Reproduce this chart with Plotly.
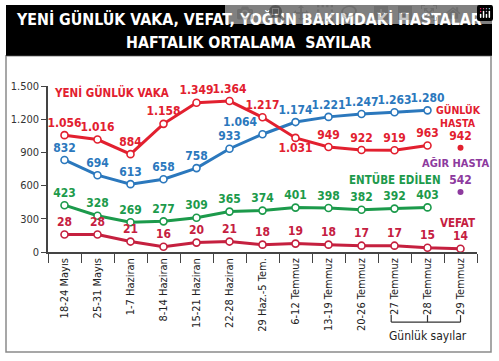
import plotly.graph_objects as go

categories = ["18-24 Mayıs", "25-31 Mayıs", "1-7 Haziran", "8-14 Haziran", "15-21 Haziran",
              "22-28 Haziran", "29 Haz.-5 Tem.", "6-12 Temmuz", "13-19 Temmuz", "20-26 Temmuz",
              "27 Temmuz", "28 Temmuz", "29 Temmuz"]
vaka = [1056, 1016, 884, 1158, 1349, 1364, 1217, 1031, 949, 922, 919, 963]
yogun_bakim = [832, 694, 613, 658, 758, 933, 1064, 1174, 1221, 1247, 1263, 1280]
entube = [423, 328, 269, 277, 309, 365, 374, 401, 398, 382, 392, 403]
vefat = [28, 28, 21, 16, 20, 21, 18, 19, 18, 17, 17, 15, 14]
gunluk_hasta = [942]
agir_hasta = [542]
ytick_vals = [0, 300, 600, 900, 1200, 1500]
ytick_text = ["0", "300", "600", "900", "1.200", "1.500"]

RED = "#e2202f"
BLUE = "#2b78bd"
GREEN = "#1c9a4b"
DRED = "#c5203f"
PURPLE = "#8d3a9e"
FONT = "DejaVu Sans Condensed, sans-serif"

def fmt(v):
    return f"{v:,}".replace(",", ".")

W, H = 499, 361
L, R, T, B = 48, 477, 85.5, 252.5

def px(x):
    return (x - L) / (R - L)

def py(y):
    return (B - y) / (B - T)

fig = go.Figure()
VAL_SIZE = 12

def series(vals, color, positions, yaxis="y"):
    fig.add_trace(go.Scatter(
        x=categories[:len(vals)], y=vals, mode="lines+markers+text",
        line=dict(color=color, width=3),
        marker=dict(size=7, color="white", line=dict(color=color, width=1.6)),
        text=[fmt(v) for v in vals], textposition=positions,
        textfont=dict(family=FONT, size=VAL_SIZE, color=color, weight="bold"),
        cliponaxis=False, yaxis=yaxis, showlegend=False, hoverinfo="skip"))

vaka_pos = ["top center"] * len(vaka)
vaka_pos[7] = "bottom center"
yb_pos = ["top center"] * len(yogun_bakim)
yb_pos[6] = "top left"
series(yogun_bakim, BLUE, yb_pos)
series(vaka, RED, vaka_pos)
series(entube, GREEN, "top center")
series(vefat, DRED, "top center", yaxis="y2")

for vals, color in [(gunluk_hasta, RED), (agir_hasta, PURPLE)]:
    fig.add_trace(go.Scatter(
        x=[categories[12]], y=vals, mode="markers+text",
        marker=dict(size=6, color=color),
        text=[fmt(v) for v in vals], textposition="top center",
        textfont=dict(family=FONT, size=VAL_SIZE, color=color, weight="bold"),
        cliponaxis=False, showlegend=False, hoverinfo="skip"))

anns = []
def lab(text, x, y, color, size=11.5, yref="y", xref="x", bold=True):
    anns.append(dict(text=text, x=x, y=y, xref=xref, yref=yref, showarrow=False,
                     xanchor="center", yanchor="middle",
                     font=dict(family=FONT, size=size, color=color, weight="bold" if bold else "normal")))

lab("YENİ GÜNLÜK VAKA", 1.41, 1444, RED)
lab("YOĞUN BAKIM", 9.94, 1504, BLUE)
lab("ENTÜBE EDİLEN", 10.0, 651, GREEN)
lab("GÜNLÜK", 11.93, 1285, RED, size=10.5)
lab("HASTA", 11.93, 1163, RED, size=10.5)
lab("AĞIR HASTA", 11.85, 800, PURPLE, size=11)
lab("VEFAT", 11.9, 262, DRED)

# title
lab("YENİ GÜNLÜK VAKA, VEFAT, YOĞUN BAKIMDAKİ HASTALAR", px(249), py(19), "white", size=15.8, xref="paper", yref="paper")
lab("HAFTALIK ORTALAMA  SAYILAR", px(249), py(42), "white", size=15.8, xref="paper", yref="paper")
# bracket text
lab("Günlük sayılar", 11, py(337), "#222", size=12, yref="paper", bold=False)

shapes = [
    dict(type="rect", xref="paper", yref="paper", x0=px(6), x1=px(491), y0=py(353), y1=py(55),
         line=dict(color="#8a8a8a", width=1.5), fillcolor="white", layer="below"),
    dict(type="rect", xref="paper", yref="paper", x0=px(6), x1=px(492), y0=py(55), y1=py(4),
         line=dict(width=0), fillcolor="black", layer="above"),
]
for xi in [9.9, 11, 12]:
    shapes.append(dict(type="line", xref="x", yref="paper", x0=xi, x1=xi, y0=py(316), y1=py(323),
                       line=dict(color="#333", width=1.2)))
shapes.append(dict(type="line", xref="x", yref="paper", x0=9.9, x1=12, y0=py(323), y1=py(323),
                   line=dict(color="#333", width=1.2)))

fig.update_layout(
    width=W, height=H,
    margin=dict(l=L, r=W - R, t=T, b=H - B, pad=0),
    paper_bgcolor="white", plot_bgcolor="rgba(0,0,0,0)",
    annotations=anns, shapes=shapes,
    xaxis=dict(type="category", categoryorder="array", categoryarray=categories,
               range=[-0.5, 12.5], tickson="boundaries", ticks="outside", ticklen=9,
               tickcolor="#444", tickwidth=1.3, showline=True, linecolor="#444", linewidth=1.5,
               showgrid=False, tickangle=-90, zeroline=False, automargin=False,
               tickfont=dict(family=FONT, size=11, color="#222")),
    yaxis=dict(range=[0, 1500], tickvals=ytick_vals, ticktext=ytick_text, ticks="outside",
               ticklen=5, tickcolor="#444", tickwidth=1.3, showline=True, linecolor="#444",
               linewidth=1.5, showgrid=False, zeroline=False, automargin=False,
               tickfont=dict(family=FONT, size=11, color="#333")),
    yaxis2=dict(range=[10.8, 173.3], overlaying="y", visible=False),
)

fig.write_html("out.html", post_script="document.body.style.margin='0';document.body.style.overflow='hidden';")
